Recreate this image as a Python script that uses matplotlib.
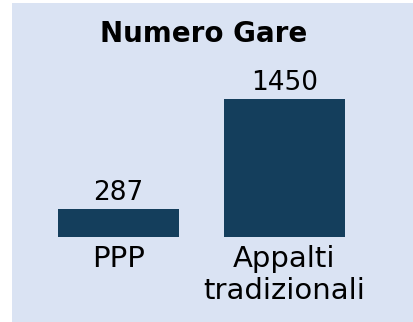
import matplotlib.pyplot as plt
from matplotlib.patches import Rectangle

# dati
categorie = ['PPP', 'Appalti\ntradizionali']
numero_gare = [287, 1450]

colore_barre = '#143e5c'
colore_sfondo = '#dae3f3'

plt.rcParams['font.family'] = ['DejaVu Sans']

fig = plt.figure(figsize=(4.13, 3.22), dpi=100)
fig.patch.set_facecolor('white')

# riquadro di sfondo
fig.add_artist(Rectangle((12 / 413, 0), 401 / 413, 318.7 / 322,
                         transform=fig.transFigure, facecolor=colore_sfondo,
                         edgecolor='none', zorder=-10))

ax = fig.add_axes([35.5 / 413, 85.5 / 322, 332 / 413, 151.7 / 322])
ax.patch.set_alpha(0)

x = list(range(len(categorie)))
barre = ax.bar(x, numero_gare, width=0.73, color=colore_barre)

for b, v in zip(barre, numero_gare):
    ax.annotate(f'{v}', (b.get_x() + b.get_width() / 2, v),
                xytext=(0, 6.5), textcoords='offset points',
                ha='center', va='baseline', fontsize=19, color='black')

ax.set_xlim(-0.5, 1.5)
ax.set_ylim(0, 1600)
ax.set_xticks(x)
ax.set_xticklabels(categorie, fontsize=21, color='black')
ax.tick_params(axis='x', length=0, pad=6)
ax.set_yticks([])
for s in ax.spines.values():
    s.set_visible(False)

fig.text(204 / 413, (322 - 42) / 322, 'Numero Gare', ha='center', va='baseline',
         fontsize=20, fontweight='bold', color='black')

plt.savefig('out.png', dpi=100, facecolor=fig.get_facecolor())
